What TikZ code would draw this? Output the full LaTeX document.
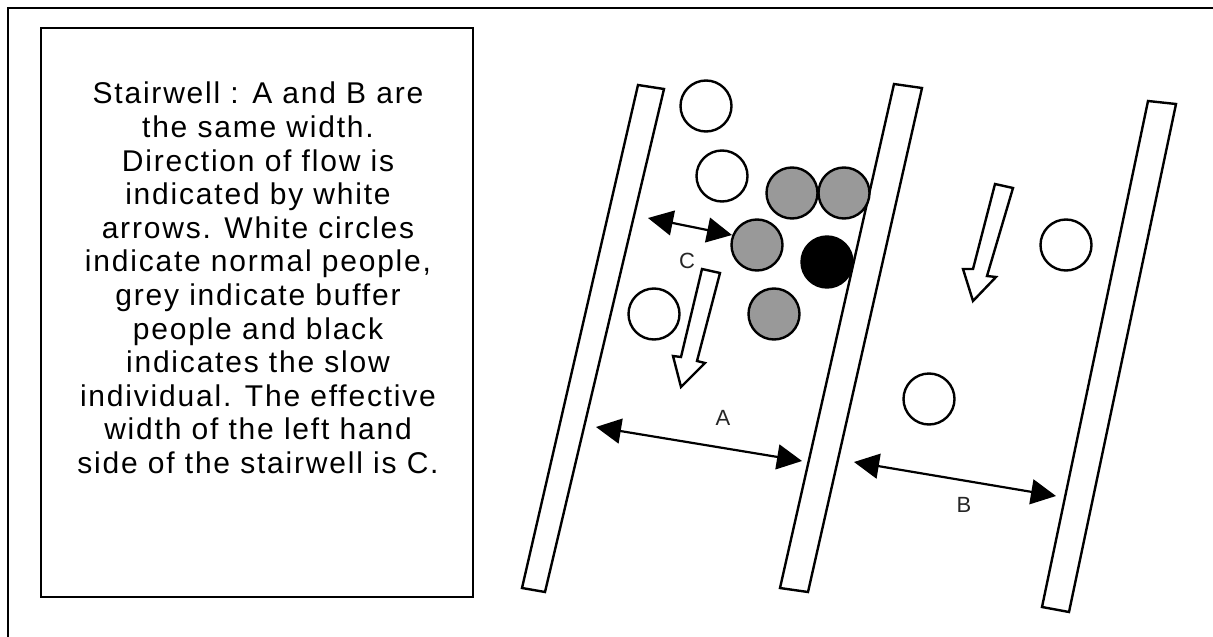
\documentclass[tikz,border=0pt]{standalone}
\usepackage{fontspec}
\setmainfont{Liberation Sans}
\newfontfamily\descfont[LetterSpace=6]{Liberation Sans}
\usetikzlibrary{arrows.meta}
\tikzset{
  frameline/.style={line width=2.6pt, line join=miter},
  rail/.style={line width=2.4pt, line join=miter, fill=white},
  person/.style={circle, draw=black, line width=2.4pt, minimum size=51pt, inner sep=0pt},
  normal/.style={person, fill=white},
  buffer/.style={person, fill=black!40},
  slow/.style={person, fill=black},
  flow/.style={line width=2.4pt, line join=miter, fill=white},
  measure/.style={line width=2.2pt, {Triangle[length=25pt,width=25pt]}-{Triangle[length=25pt,width=25pt]}},
  lbl/.style={inner sep=0pt, font=\fontsize{22}{26}\selectfont, text=black!85}
}
\begin{document}
\begin{tikzpicture}[x=1pt,y=-1pt]
\useasboundingbox (0,0) rectangle (1213,637);
\fill[white] (0,0) rectangle (1213,637);
% outer frame (only left and top edges visible)
\draw[frameline] (8,637) -- (8,8) -- (1213,8);
% description box
\node[draw, frameline, minimum width=432pt, minimum height=569pt, inner sep=0pt] (box) at (257,312.5) {};
\node[anchor=north, inner sep=0pt, align=center, font=\descfont\fontsize{30}{33.6}\selectfont] (desc) at (258,82)
{Stairwell : A and B are\\
the same width.\\
Direction of flow is\\
indicated by white\\
arrows. White circles\\
indicate normal people,\\
grey indicate buffer\\
people and black\\
indicates the slow\\
individual. The effective\\
width of the left hand\\
side of the stairwell is C.};
% rails
\draw[rail] (638,85) -- (664,89) -- (545,592) -- (522,588) -- cycle;
\draw[rail] (894,84) -- (922,88) -- (808,592) -- (780,588) -- cycle;
\draw[rail] (1148,101) -- (1176,104) -- (1069,612) -- (1042,607) -- cycle;
% flow arrows
\draw[flow] (702,269) -- (720,273) -- (697,361) -- (705,363) -- (681,387) -- (673,356) -- (681,357) -- cycle;
\draw[flow] (995,184) -- (1013,188) -- (987,276) -- (996,277) -- (973,301) -- (963,269) -- (973,269) -- cycle;
% people
\node[normal] (w1) at (706,106) {};
\node[normal] (w2) at (722,176) {};
\node[buffer] (g1) at (792,193) {};
\node[buffer] (g2) at (844,193) {};
\node[buffer] (g3) at (757,245) {};
\node[slow]   (k1) at (827,262) {};
\node[buffer] (g4) at (774,314) {};
\node[normal] (w3) at (654,314) {};
\node[normal] (w4) at (1066,245) {};
\node[normal] (w5) at (929,399) {};
% measurement arrows
\coordinate (cL) at (648,218);
\coordinate (cR) at (732,235);
\coordinate (aL) at (596,427);
\coordinate (aR) at (802,461);
\coordinate (bL) at (854,462);
\coordinate (bR) at (1056,496);
\draw[measure] (cL) -- (cR);
\draw[measure] (aL) -- (aR);
\draw[measure] (bL) -- (bR);
\node[lbl] (lc) at (687,261) {C};
\node[lbl] (la) at (723,418) {A};
\node[lbl] (lb) at (964,505) {B};
\end{tikzpicture}
\end{document}
